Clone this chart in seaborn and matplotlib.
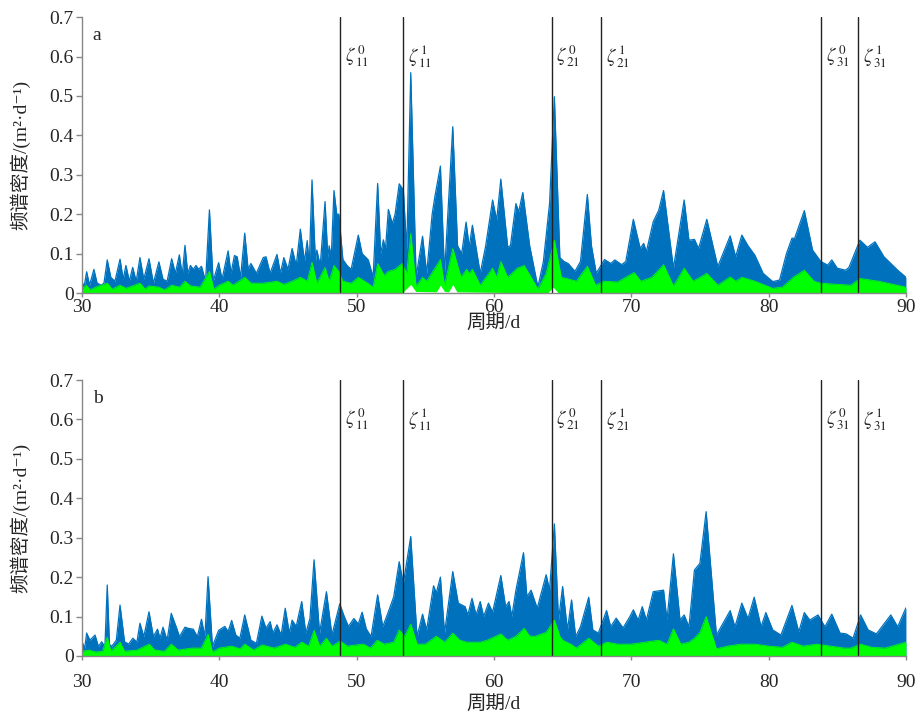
import numpy as np
import pandas as pd
import seaborn as sns
import matplotlib
matplotlib.use("Agg")
import matplotlib.pyplot as plt

# ---- data: (period/d, spectral density) ----
# panel a: upper edge of the blue ensemble
period_a_blue = [30.0, 30.15, 30.34, 30.55, 30.87, 31.1, 31.4, 31.6, 31.84, 32.1, 32.4, 32.77, 33.0, 33.2,
                 33.45, 33.69, 33.95, 34.22, 34.5, 34.88, 35.2, 35.6, 35.9, 36.2, 36.53, 36.8, 37.09, 37.3,
                 37.5, 37.7, 37.9, 38.1, 38.3, 38.5, 38.7, 39.0, 39.28, 39.55, 39.95, 40.2, 40.64, 40.85,
                 41.1, 41.3, 41.55, 41.85, 42.1, 42.3, 42.7, 43.2, 43.4, 43.7, 44.2, 44.45, 44.7, 45.0,
                 45.3, 45.6, 45.9, 46.2, 46.4, 46.55, 46.75, 47.0, 47.1, 47.35, 47.7, 47.9, 48.0, 48.15,
                 48.35, 48.55, 48.7, 49.0, 49.3, 49.6, 50.12, 50.4, 50.85, 51.2, 51.53, 51.75, 51.95, 52.1,
                 52.31, 52.6, 52.8, 53.1, 53.4, 53.65, 53.94, 54.33, 54.8, 55.1, 55.5, 55.7, 56.1, 56.4,
                 57.0, 57.35, 57.65, 57.97, 58.2, 58.43, 59.0, 59.4, 59.9, 60.2, 60.5, 61.0, 61.2, 61.6,
                 61.8, 62.1, 62.6, 63.2, 63.6, 64.05, 64.4, 64.8, 65.1, 65.4, 65.9, 66.3, 66.8, 67.1,
                 67.45, 68.05, 68.5, 68.8, 69.3, 69.6, 70.15, 70.65, 70.9, 71.1, 71.6, 72.0, 72.35, 73.07,
                 73.85, 74.2, 74.6, 74.9, 75.5, 76.3, 77.2, 77.6, 78.05, 78.5, 79.0, 79.6, 80.3, 80.8,
                 81.3, 81.7, 81.9, 82.6, 83.2, 83.8, 84.3, 84.6, 85.0, 85.6, 85.85, 86.65, 87.2, 87.75,
                 88.4, 89.4, 90.0]
blue_a = [0.03, 0.015, 0.054, 0.02, 0.06, 0.025, 0.02, 0.025, 0.084, 0.04, 0.03, 0.086, 0.035, 0.07,
          0.03, 0.065, 0.03, 0.09, 0.035, 0.087, 0.025, 0.079, 0.035, 0.03, 0.087, 0.05, 0.097, 0.045,
          0.121, 0.05, 0.07, 0.06, 0.07, 0.06, 0.068, 0.03, 0.211, 0.03, 0.077, 0.035, 0.107, 0.05,
          0.095, 0.092, 0.04, 0.152, 0.06, 0.075, 0.05, 0.09, 0.092, 0.05, 0.098, 0.05, 0.09, 0.06,
          0.113, 0.07, 0.162, 0.08, 0.133, 0.07, 0.287, 0.08, 0.109, 0.07, 0.232, 0.09, 0.12, 0.09,
          0.26, 0.2, 0.2, 0.085, 0.07, 0.06, 0.147, 0.1, 0.084, 0.04, 0.278, 0.1, 0.135, 0.11,
          0.212, 0.176, 0.2, 0.277, 0.262, 0.109, 0.559, 0.041, 0.144, 0.05, 0.2, 0.245, 0.322, 0.05,
          0.422, 0.12, 0.1, 0.18, 0.117, 0.172, 0.05, 0.12, 0.236, 0.185, 0.289, 0.117, 0.12, 0.227,
          0.206, 0.255, 0.12, 0.015, 0.08, 0.227, 0.498, 0.09, 0.08, 0.075, 0.055, 0.08, 0.25, 0.12,
          0.05, 0.085, 0.075, 0.084, 0.072, 0.08, 0.187, 0.113, 0.126, 0.105, 0.181, 0.21, 0.26, 0.063,
          0.236, 0.134, 0.136, 0.113, 0.187, 0.067, 0.145, 0.092, 0.147, 0.12, 0.096, 0.05, 0.029, 0.033,
          0.1, 0.139, 0.139, 0.209, 0.109, 0.08, 0.071, 0.084, 0.063, 0.058, 0.065, 0.134, 0.116, 0.13,
          0.092, 0.058, 0.04]

# panel a: upper edge of the green ensemble
period_a_green = [30.0, 30.3, 30.6, 31.0, 31.84, 32.2, 32.77, 33.2, 34.22, 34.6, 34.88, 35.6, 36.0, 36.53,
                  37.1, 37.5, 37.9, 38.6, 39.28, 39.6, 40.0, 40.64, 41.0, 41.85, 42.3, 43.2, 44.2, 44.7,
                  45.3, 45.9, 46.4, 46.75, 47.1, 47.7, 48.0, 48.35, 48.7, 49.0, 49.6, 50.12, 50.8, 51.2,
                  51.53, 52.0, 52.31, 52.8, 53.3, 53.65, 53.94, 54.33, 54.8, 55.1, 56.1, 56.4, 57.0, 57.6,
                  58.0, 58.2, 58.43, 59.0, 59.9, 60.2, 60.5, 61.0, 61.7, 62.2, 62.7, 63.2, 63.8, 64.4,
                  64.9, 65.5, 66.0, 66.8, 67.4, 68.0, 69.0, 70.2, 70.7, 71.5, 72.35, 73.07, 73.85, 74.5,
                  75.5, 76.3, 77.2, 77.6, 78.05, 79.0, 80.3, 81.0, 81.8, 82.6, 83.3, 83.8, 85.0, 86.0,
                  86.65, 88.0, 90.0]
green_a = [0.01, 0.02, 0.008, 0.015, 0.025, 0.01, 0.02, 0.012, 0.025, 0.01, 0.018, 0.015, 0.008, 0.02,
           0.015, 0.03, 0.018, 0.015, 0.055, 0.01, 0.02, 0.03, 0.02, 0.04, 0.025, 0.025, 0.03, 0.022,
           0.03, 0.04, 0.03, 0.078, 0.025, 0.065, 0.03, 0.07, 0.055, 0.03, 0.025, 0.04, 0.025, 0.015,
           0.075, 0.045, 0.055, 0.06, 0.075, 0.05, 0.151, 0.017, 0.04, 0.03, 0.085, 0.02, 0.113, 0.04,
           0.06, 0.05, 0.06, 0.02, 0.063, 0.04, 0.08, 0.04, 0.063, 0.07, 0.04, 0.01, 0.05, 0.134,
           0.04, 0.035, 0.03, 0.068, 0.02, 0.03, 0.028, 0.052, 0.03, 0.04, 0.072, 0.018, 0.063, 0.03,
           0.05, 0.02, 0.041, 0.03, 0.04, 0.03, 0.012, 0.015, 0.04, 0.058, 0.03, 0.025, 0.022, 0.02,
           0.037, 0.03, 0.015]

# panel a: small white gaps under the green band
period_a_gap = [52.8, 53.3, 53.94, 54.3, 55.8, 56.1, 56.4, 56.7, 57.0, 57.3, 63.9, 64.3, 64.7]
gap_a = [0.0, 0.0, 0.022, 0.004, 0.003, 0.02, 0.004, 0.003, 0.022, 0.003, 0.0, 0.015, 0.0]

# panel b: upper edge of the blue ensemble
period_b_blue = [30.0, 30.2, 30.34, 30.58, 30.95, 31.2, 31.43, 31.67, 31.84, 32.0, 32.16, 32.5, 32.77, 33.1,
                 33.4, 33.7, 34.0, 34.22, 34.5, 34.88, 35.2, 35.5, 35.68, 35.9, 36.2, 36.5, 36.9, 37.1,
                 37.5, 37.75, 38.1, 38.4, 38.7, 38.95, 39.18, 39.5, 39.95, 40.4, 40.64, 40.9, 41.2, 41.5,
                 41.85, 42.3, 42.7, 43.1, 43.4, 43.7, 43.9, 44.2, 44.5, 44.8, 45.1, 45.3, 45.6, 46.0,
                 46.3, 46.6, 46.9, 47.3, 47.8, 48.2, 48.77, 49.1, 49.4, 49.8, 50.12, 50.4, 50.7, 51.05,
                 51.53, 51.9, 52.3, 52.7, 53.1, 53.4, 53.94, 54.4, 54.8, 55.1, 55.6, 55.8, 56.1, 56.4,
                 57.0, 57.4, 57.9, 58.1, 58.4, 58.7, 59.0, 59.25, 59.6, 59.9, 60.5, 60.85, 61.1, 61.3,
                 61.6, 62.15, 62.4, 62.7, 63.15, 63.8, 64.05, 64.4, 64.7, 65.0, 65.35, 65.65, 65.95, 66.3,
                 66.9, 67.2, 67.6, 68.2, 68.5, 68.9, 69.4, 69.9, 70.15, 70.5, 70.8, 71.1, 71.6, 72.35,
                 72.6, 73.07, 73.55, 73.85, 74.2, 74.6, 75.0, 75.45, 76.2, 77.2, 77.55, 78.05, 78.5, 78.95,
                 79.45, 79.8, 80.3, 80.9, 81.7, 82.2, 82.6, 83.0, 83.6, 84.1, 84.6, 85.2, 85.65, 86.15,
                 86.7, 87.25, 87.85, 88.9, 89.4, 90.0]
blue_b = [0.036, 0.02, 0.058, 0.04, 0.053, 0.024, 0.036, 0.024, 0.18, 0.03, 0.024, 0.04, 0.129, 0.036,
          0.03, 0.045, 0.035, 0.083, 0.049, 0.112, 0.049, 0.068, 0.045, 0.073, 0.04, 0.108, 0.07, 0.049,
          0.073, 0.07, 0.068, 0.049, 0.093, 0.049, 0.201, 0.024, 0.065, 0.075, 0.062, 0.09, 0.053, 0.045,
          0.104, 0.04, 0.032, 0.101, 0.07, 0.087, 0.058, 0.079, 0.053, 0.121, 0.058, 0.091, 0.075, 0.138,
          0.058, 0.095, 0.244, 0.058, 0.163, 0.053, 0.132, 0.1, 0.075, 0.095, 0.081, 0.111, 0.069, 0.049,
          0.155, 0.074, 0.111, 0.15, 0.239, 0.184, 0.303, 0.049, 0.106, 0.066, 0.178, 0.16, 0.2, 0.058,
          0.214, 0.134, 0.125, 0.104, 0.146, 0.104, 0.138, 0.1, 0.134, 0.111, 0.204, 0.125, 0.138, 0.1,
          0.167, 0.262, 0.15, 0.167, 0.121, 0.206, 0.167, 0.335, 0.091, 0.176, 0.066, 0.142, 0.049, 0.074,
          0.149, 0.066, 0.058, 0.115, 0.074, 0.096, 0.071, 0.1, 0.117, 0.091, 0.125, 0.091, 0.163, 0.167,
          0.091, 0.259, 0.091, 0.104, 0.074, 0.218, 0.235, 0.366, 0.053, 0.115, 0.074, 0.134, 0.095, 0.149,
          0.074, 0.11, 0.066, 0.053, 0.128, 0.061, 0.11, 0.091, 0.104, 0.074, 0.106, 0.058, 0.056, 0.045,
          0.104, 0.066, 0.056, 0.104, 0.074, 0.122]

# panel b: upper edge of the green ensemble
period_b_green = [30.0, 30.5, 31.0, 31.5, 31.84, 32.1, 32.77, 33.1, 34.0, 34.9, 35.3, 36.0, 36.5, 37.0,
                  38.0, 38.7, 39.18, 39.5, 40.0, 40.9, 41.5, 41.85, 42.5, 43.1, 44.0, 44.8, 45.5, 46.0,
                  46.5, 46.9, 47.3, 47.8, 48.2, 48.8, 49.3, 50.0, 50.5, 51.0, 51.5, 52.0, 52.7, 53.1,
                  53.5, 53.94, 54.4, 55.0, 55.8, 56.4, 57.0, 57.5, 58.0, 59.0, 59.5, 60.5, 61.0, 61.6,
                  62.2, 62.6, 63.0, 63.8, 64.4, 64.8, 65.0, 65.6, 66.0, 66.9, 67.6, 68.2, 69.0, 70.0,
                  71.0, 72.0, 72.6, 73.07, 73.6, 74.2, 74.6, 75.0, 75.45, 76.2, 77.0, 78.0, 79.0, 80.0,
                  81.0, 81.7, 82.5, 83.5, 84.5, 85.5, 86.0, 86.7, 87.5, 88.5, 89.0, 90.0]
green_b = [0.012, 0.015, 0.01, 0.012, 0.048, 0.012, 0.035, 0.012, 0.015, 0.03, 0.015, 0.012, 0.03, 0.015,
           0.02, 0.02, 0.055, 0.01, 0.02, 0.025, 0.018, 0.03, 0.015, 0.028, 0.02, 0.03, 0.022, 0.035,
           0.025, 0.065, 0.025, 0.045, 0.025, 0.038, 0.025, 0.028, 0.03, 0.02, 0.04, 0.03, 0.035, 0.066,
           0.05, 0.081, 0.03, 0.03, 0.05, 0.035, 0.058, 0.04, 0.035, 0.035, 0.04, 0.056, 0.04, 0.05,
           0.07, 0.05, 0.05, 0.06, 0.091, 0.05, 0.04, 0.03, 0.02, 0.045, 0.025, 0.035, 0.03, 0.03,
           0.035, 0.04, 0.03, 0.069, 0.03, 0.035, 0.045, 0.06, 0.1, 0.018, 0.025, 0.03, 0.03, 0.025,
           0.022, 0.035, 0.025, 0.03, 0.025, 0.02, 0.02, 0.03, 0.022, 0.02, 0.025, 0.035]

# theoretical mode periods (vertical lines)
mode_periods = [48.8, 53.4, 64.2, 67.8, 83.8, 86.5]
mode_labels = [r"$\zeta^{\,0}_{\,11}$", r"$\zeta^{\,1}_{\,11}$", r"$\zeta^{\,0}_{\,21}$",
               r"$\zeta^{\,1}_{\,21}$", r"$\zeta^{\,0}_{\,31}$", r"$\zeta^{\,1}_{\,31}$"]

sns.set_style("ticks")
plt.rcParams["font.family"] = ["Liberation Serif", "Noto Sans CJK SC", "DejaVu Serif"]
plt.rcParams["mathtext.fontset"] = "stix"
plt.rcParams["axes.unicode_minus"] = False

BLUE = "#0072BD"
GREEN = "#00FF00"

fig = plt.figure(figsize=(9.16, 7.13), dpi=100)
ax_a = fig.add_axes([0.0895, 0.589, 0.8995, 0.387])
ax_b = fig.add_axes([0.0895, 0.080, 0.8995, 0.387])

# (axis, letter, blue data, green data, x tick pad, x label pad)
panels = [
    (ax_a, "a", period_a_blue, blue_a, period_a_green, green_a, 1, -1),
    (ax_b, "b", period_b_blue, blue_b, period_b_green, green_b, 10, 3),
]

for ax, letter, pb, vb, pg, vg, xpad, xlpad in panels:
    dfb = pd.DataFrame({"period": pb, "density": vb})
    dfg = pd.DataFrame({"period": pg, "density": vg})
    ax.fill_between(dfb["period"], 0, dfb["density"], color=BLUE, lw=0, zorder=1)
    sns.lineplot(data=dfb, x="period", y="density", ax=ax, color=BLUE, lw=0.9,
                 estimator=None, sort=False, zorder=2)
    ax.fill_between(dfg["period"], 0, dfg["density"], color=GREEN, lw=0, zorder=3)
    sns.lineplot(data=dfg, x="period", y="density", ax=ax, color=GREEN, lw=0.6,
                 estimator=None, sort=False, zorder=3)
    if letter == "a":
        ax.fill_between(period_a_gap, 0, gap_a, color="white", lw=0, zorder=4)

    for p, lab in zip(mode_periods, mode_labels):
        ax.axvline(p, color="#222222", lw=1.0, zorder=5)
        ax.text(p + 0.35, 0.60, lab, fontsize=13.5, va="center", ha="left", zorder=6)

    ax.text(0.013, 0.965, letter, transform=ax.transAxes, fontsize=14, va="top", ha="left")

    ax.set_xlim(30, 90)
    ax.set_ylim(0, 0.7)
    ax.set_xticks([30, 40, 50, 60, 70, 80, 90])
    ax.set_yticks([0, 0.1, 0.2, 0.3, 0.4, 0.5, 0.6, 0.7])
    ax.set_yticklabels(["0", "0.1", "0.2", "0.3", "0.4", "0.5", "0.6", "0.7"])
    ax.tick_params(axis="both", labelsize=14, direction="out", length=4,
                   color="#888888", width=1.0, pad=2)
    ax.tick_params(axis="x", length=3, pad=xpad)
    for s in ["top", "right"]:
        ax.spines[s].set_visible(False)
    for s in ["left", "bottom"]:
        ax.spines[s].set_color("#888888")
        ax.spines[s].set_linewidth(1.0)
        ax.spines[s].set_zorder(7)
    ax.set_xlabel("周期/d", fontsize=14, labelpad=xlpad)
    ax.set_ylabel("频谱密度/(m²·d⁻¹)", fontsize=14, labelpad=14)

fig.savefig("out.png", dpi=100)
